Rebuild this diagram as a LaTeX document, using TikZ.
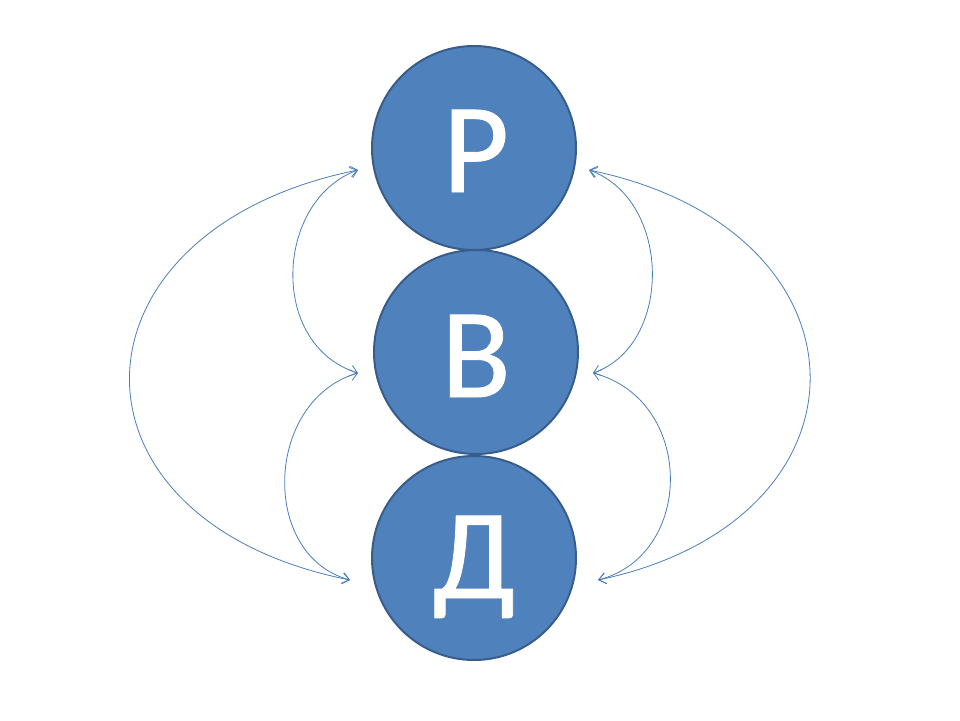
\documentclass[tikz,border=0pt]{standalone}
\usepackage{fontspec}
\setmainfont{Carlito}
\newfontfamily\ballfont[FakeBold=0.6]{Carlito}
\usetikzlibrary{arrows.meta}
\definecolor{ballfill}{HTML}{4F81BD}
\definecolor{balledge}{HTML}{385D8A}
\definecolor{arrowcol}{HTML}{4A7EBB}
\begin{document}
\begin{tikzpicture}[x=1pt,y=-1pt,
  ball/.style={circle,fill=ballfill,draw=balledge,line width=2pt,minimum size=204pt,inner sep=0pt,
    text=white,text height=82pt,text depth=0pt,font=\ballfont\fontsize{128}{128}\selectfont},
  link/.style={draw=arrowcol,line width=0.8pt,{Straight Barb[length=7pt,width=11pt]}-{Straight Barb[length=7pt,width=11pt]}}]
\useasboundingbox (0,0) rectangle (960,720);
\node[ball] (P) at (474,148) {};
\node[ball] (B) at (476,352) {};
\node[ball] (D) at (474,558) {};
\node[text=white,inner sep=0pt,text height=82pt,text depth=0pt,font=\ballfont\fontsize{128}{128}\selectfont] (Pt) at (476,151) {Р};
\node[text=white,inner sep=0pt,text height=82pt,text depth=0pt,font=\ballfont\fontsize{128}{128}\selectfont] (Bt) at (476,356) {В};
\node[text=white,inner sep=0pt,text height=82pt,text depth=0pt,font=\ballfont\fontsize{128}{128}\selectfont] (Dt) at (474,557) {Д};
\coordinate (lt) at (358,170);
\coordinate (lm) at (358,373);
\coordinate (lb) at (350,580);
\coordinate (rt) at (589,170);
\coordinate (rm) at (593,373);
\coordinate (rb) at (598,580);
\draw[link] (lt) .. controls (60,230) and (50,520) .. (lb);
\draw[link] (lt) .. controls (275,200) and (268,345) .. (lm);
\draw[link] (lm) .. controls (265,400) and (259,555) .. (lb);
\draw[link] (rt) .. controls (880,230) and (884,520) .. (rb);
\draw[link] (rt) .. controls (672,200) and (673,345) .. (rm);
\draw[link] (rm) .. controls (695,400) and (695,555) .. (rb);
\end{tikzpicture}
\end{document}
